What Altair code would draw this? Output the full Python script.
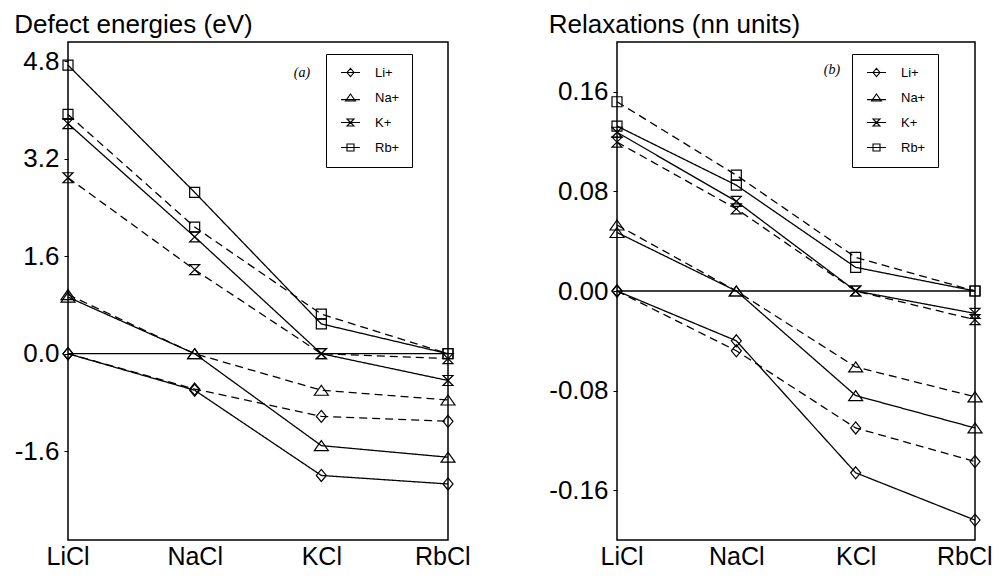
import altair as alt
import pandas as pd

hosts = ["LiCl", "NaCl", "KCl", "RbCl"]
ions = ["Li+", "Na+", "K+", "Rb+"]

# Panel (a): defect energies (eV)
e_li_solid = [0.0, -0.60, -2.00, -2.14]
e_li_dash = [0.0, -0.58, -1.03, -1.11]
e_na_solid = [0.93, 0.0, -1.51, -1.70]
e_na_dash = [0.97, 0.0, -0.60, -0.76]
e_k_solid = [3.78, 1.92, 0.0, -0.44]
e_k_dash = [2.89, 1.38, 0.0, -0.08]
e_rb_solid = [4.74, 2.65, 0.49, 0.0]
e_rb_dash = [3.93, 2.08, 0.65, 0.0]

# Panel (b): relaxations (nn units)
r_li_solid = [0.0, -0.040, -0.146, -0.184]
r_li_dash = [0.0, -0.048, -0.110, -0.137]
r_na_solid = [0.047, 0.0, -0.084, -0.110]
r_na_dash = [0.053, 0.0, -0.061, -0.085]
r_k_solid = [0.1275, 0.072, 0.0, -0.018]
r_k_dash = [0.1196, 0.066, 0.0, -0.023]
r_rb_solid = [0.1325, 0.085, 0.019, 0.0]
r_rb_dash = [0.152, 0.093, 0.027, 0.0]

marker_paths = [
    "M0,-1.2L1,0L0,1.2L-1,0Z",
    "M0,-1L1.4,1L-1.4,1Z",
    "M-1,-1L1,-1L-1,1L1,1Z",
    "M-1,-1L1,-1L1,1L-1,1Z",
]
legend_paths = [
    "M-2.7,0L2.7,0M0,-1.2L1,0L0,1.2L-1,0Z",
    "M-2.7,0.6L2.7,0.6M0,-1L1.4,1L-1.4,1Z",
    "M-2.7,0L2.7,0M-1,-1L1,-1L-1,1L1,1Z",
    "M-2.7,0L2.7,0M-1,-1L1,-1L1,1L-1,1Z",
]


def build(series):
    rows = []
    for ion, method, vals in series:
        for h, v in zip(hosts, vals):
            rows.append({"host": h, "ion": ion, "method": method, "value": v})
    return pd.DataFrame(rows)


df_a = build([
    ("Li+", "solid", e_li_solid), ("Li+", "dashed", e_li_dash),
    ("Na+", "solid", e_na_solid), ("Na+", "dashed", e_na_dash),
    ("K+", "solid", e_k_solid), ("K+", "dashed", e_k_dash),
    ("Rb+", "solid", e_rb_solid), ("Rb+", "dashed", e_rb_dash),
])
df_b = build([
    ("Li+", "solid", r_li_solid), ("Li+", "dashed", r_li_dash),
    ("Na+", "solid", r_na_solid), ("Na+", "dashed", r_na_dash),
    ("K+", "solid", r_k_solid), ("K+", "dashed", r_k_dash),
    ("Rb+", "solid", r_rb_solid), ("Rb+", "dashed", r_rb_dash),
])

FONT = "Liberation Sans"


def panel(df, title, domain, ticks, fmt, width, legend_x, tag, tag_x, tag_y, flush):
    x = alt.X("host:N", sort=hosts,
              scale=alt.Scale(type="point", domain=hosts, padding=0),
              axis=alt.Axis(title=None, labelAngle=0, ticks=False, domain=False,
                            labelPadding=4, labelFontSize=25, labelFont=FONT,
                            labelColor="black", grid=False,
                            labelFlush=True, labelFlushOffset=flush))
    y = alt.Y("value:Q", scale=alt.Scale(domain=domain, nice=False, zero=False),
              axis=alt.Axis(title=None, values=ticks, domain=False, grid=False,
                            tickSize=4, tickColor="black", labelPadding=5,
                            labelFontSize=26, labelFont=FONT, labelColor="black",
                            labelExpr=f"replace(format(datum.value, '{fmt}'), '\u2212', '-')"))
    base = alt.Chart(df)
    lines = base.transform_calculate(
        host_order="indexof(['LiCl','NaCl','KCl','RbCl'], datum.host)",
        grp="datum.ion + datum.method",
    ).mark_line(color="black", strokeWidth=1.3).encode(
        x=x, y=y,
        detail=alt.Detail("grp:N"),
        strokeDash=alt.StrokeDash("method:N",
                                  scale=alt.Scale(domain=["solid", "dashed"], range=[[1, 0], [8, 5]]),
                                  legend=None),
        order=alt.Order("host_order:Q"),
    )
    points = base.mark_point(filled=False, color="black", strokeWidth=1.2, size=100, opacity=1).encode(
        x=x, y=y,
        shape=alt.Shape("ion:N", scale=alt.Scale(domain=ions, range=marker_paths), legend=None),
    )
    legend_layer = base.transform_filter("false").mark_point(
        filled=False, color="black", strokeWidth=1.2, opacity=1
    ).encode(
        x=x, y=y,
        shape=alt.Shape("ion:N", scale=alt.Scale(domain=ions, range=legend_paths),
                        legend=alt.Legend(title=None, orient="none", legendX=legend_x, legendY=12,
                                          strokeColor="black", padding=12, rowPadding=11,
                                          symbolSize=49, symbolStrokeWidth=1.1,
                                          symbolStrokeColor="black", labelFont=FONT,
                                          labelFontSize=13, labelColor="black",
                                          labelOffset=18, symbolOffset=6,
                                          labelExpr="datum.label + '\u00a0\u00a0\u00a0\u00a0\u00a0\u00a0'")),
    )
    zero = alt.Chart(pd.DataFrame({"z": [0.0]})).mark_rule(color="black", strokeWidth=1.3).encode(
        y=alt.Y("z:Q")
    )
    tag_text = alt.Chart(pd.DataFrame({"t": [tag]})).mark_text(
        font="Liberation Serif", fontStyle="italic", fontSize=14, color="black"
    ).encode(text="t:N", x=alt.value(tag_x), y=alt.value(tag_y))
    return alt.layer(zero, lines, points, legend_layer, tag_text).resolve_scale(
        shape="independent"
    ).properties(
        width=width, height=498,
        title=alt.TitleParams(title, anchor="start", fontSize=26, font=FONT,
                              fontWeight="normal", color="black", offset=4),
    )


left = panel(df_a, "Defect energies (eV)", [-3.06, 5.12], [-1.6, 0.0, 1.6, 3.2, 4.8], ".1f",
             380, 258, "(a)", 234, 31, 22)
right = panel(df_b, "Relaxations (nn units)", [-0.2, 0.2], [-0.16, -0.08, 0.0, 0.08, 0.16], ".2f",
              358, 235, "(b)", 215, 28, 17)

chart = alt.hconcat(left, right, spacing=76).properties(
    padding={"left": 5, "top": 3, "right": 0, "bottom": 0}
).configure(background="white").configure_view(stroke="black", strokeWidth=1.5)

chart.save("out.html", embed_options={"renderer": "svg", "actions": False})
